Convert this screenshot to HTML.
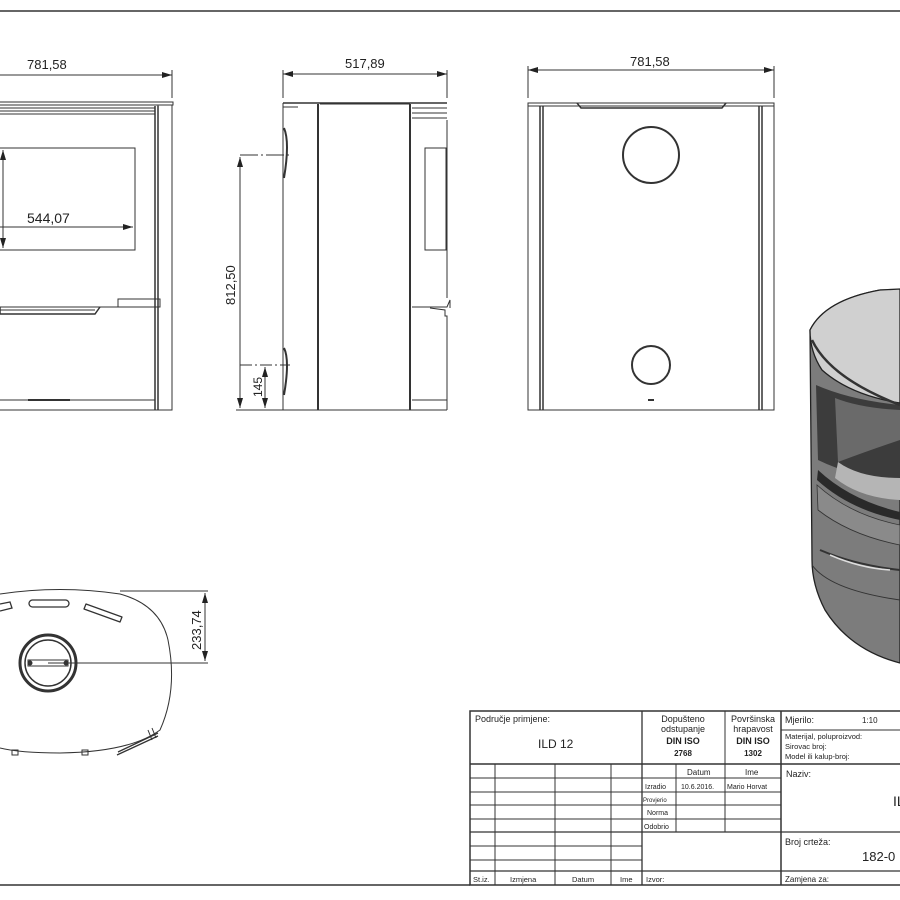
<!DOCTYPE html>
<html><head><meta charset="utf-8"><style>
html,body{margin:0;padding:0;background:#fff}
svg{display:block}
text{font-family:"Liberation Sans",sans-serif;fill:#222}
</style></head><body>
<svg width="900" height="900" viewBox="0 0 900 900" xmlns="http://www.w3.org/2000/svg">
<defs>
<marker id="a" viewBox="0 0 10 6" refX="10" refY="3" markerWidth="10" markerHeight="6" orient="auto-start-reverse" markerUnits="userSpaceOnUse"><path d="M0,0L10,3L0,6z" fill="#222"/></marker>
</defs>
<g stroke="#333" fill="none" stroke-width="1">
<line x1="0" y1="11" x2="900" y2="11" stroke-width="1.5"/>
<line x1="0" y1="885" x2="470" y2="885" stroke-width="1.5"/>

<!-- FRONT VIEW -->
<line x1="0" y1="75" x2="172" y2="75" marker-end="url(#a)"/>
<line x1="172" y1="70" x2="172" y2="98"/>
<rect x="-2" y="102" width="175" height="3"/>
<line x1="0" y1="105" x2="155" y2="105"/>
<line x1="0" y1="108" x2="155" y2="108"/>
<line x1="0" y1="111" x2="155" y2="111"/>
<line x1="0" y1="114" x2="155" y2="114"/>
<line x1="155" y1="106" x2="155" y2="410" stroke-width="1.5"/>
<line x1="158" y1="106" x2="158" y2="410" stroke-width="1.5"/>
<rect x="158" y="105" width="14" height="305"/>
<rect x="-2" y="148" width="137" height="102"/>
<line x1="0" y1="227" x2="133" y2="227" marker-end="url(#a)"/>
<line x1="3" y1="150" x2="3" y2="248" marker-end="url(#a)" marker-start="url(#a)"/>
<rect x="118" y="299" width="42" height="8"/>
<line x1="0" y1="307" x2="158" y2="307"/>
<path d="M0,307 L0,314 L95,314 L100,307" stroke-width="1.5"/>
<line x1="0" y1="310" x2="95" y2="310"/>
<line x1="0" y1="400" x2="155" y2="400"/>
<line x1="28" y1="400" x2="70" y2="400" stroke-width="2"/>
<line x1="0" y1="410" x2="172" y2="410"/>

<!-- SIDE VIEW -->
<line x1="283" y1="74" x2="447" y2="74" marker-end="url(#a)" marker-start="url(#a)"/>
<line x1="283" y1="70" x2="283" y2="98"/>
<line x1="447" y1="70" x2="447" y2="98"/>
<line x1="283" y1="103" x2="447" y2="103" stroke-width="1.5"/>
<line x1="283" y1="103" x2="283" y2="410"/>
<line x1="283" y1="107" x2="298" y2="107"/>
<path d="M284,128 Q290,142 284,178" stroke-width="2"/>
<path d="M284,348 Q290,360 284,395" stroke-width="2"/>
<line x1="318" y1="104" x2="318" y2="410" stroke-width="2"/>
<line x1="320" y1="104" x2="410" y2="104"/>
<line x1="410" y1="104" x2="410" y2="410" stroke-width="2"/>
<line x1="412" y1="108" x2="447" y2="108"/>
<line x1="412" y1="113" x2="447" y2="113"/>
<line x1="412" y1="118" x2="447" y2="118"/>
<line x1="447" y1="120" x2="447" y2="298"/>
<rect x="425" y="148" width="21" height="102"/>
<path d="M412,307 L447,307 L450,300 L450,308 M430,308 L445,310 L445,316 L447,316 L447,410"/>
<line x1="412" y1="400" x2="447" y2="400"/>
<line x1="283" y1="410" x2="447" y2="410"/>
<line x1="240" y1="155" x2="290" y2="155" stroke-dasharray="18,3,2,3"/>
<line x1="240" y1="365" x2="290" y2="365" stroke-dasharray="12,3,2,3"/>
<line x1="236" y1="410" x2="283" y2="410"/>
<line x1="240" y1="157" x2="240" y2="408" marker-end="url(#a)" marker-start="url(#a)"/>
<line x1="265" y1="367" x2="265" y2="408" marker-end="url(#a)" marker-start="url(#a)"/>

<!-- BACK VIEW -->
<line x1="528" y1="70" x2="774" y2="70" marker-end="url(#a)" marker-start="url(#a)"/>
<line x1="528" y1="66" x2="528" y2="98"/>
<line x1="774" y1="66" x2="774" y2="98"/>
<rect x="528" y="103" width="246" height="307"/>
<line x1="528" y1="106" x2="774" y2="106"/>
<line x1="540" y1="106" x2="540" y2="410" stroke-width="1.5"/>
<line x1="543" y1="106" x2="543" y2="410" stroke-width="1.5"/>
<line x1="759" y1="106" x2="759" y2="410" stroke-width="1.5"/>
<line x1="762" y1="106" x2="762" y2="410" stroke-width="1.5"/>
<path d="M577,103 L581,108 L722,108 L726,103" stroke-width="1.5"/>
<circle cx="651" cy="155" r="28" stroke-width="2"/>
<circle cx="651" cy="365" r="19" stroke-width="2"/>
<line x1="648" y1="400" x2="654" y2="400" stroke-width="2"/>

<!-- TOP VIEW -->
<path d="M0,594 Q60,585 120,594 Q160,605 168,640 Q178,690 160,730 Q130,752 60,753 Q20,753 0,748"/>
<circle cx="48" cy="663" r="28" stroke-width="3"/>
<circle cx="48" cy="663" r="23" stroke-width="1.5"/>
<rect x="28" y="660" width="40" height="6"/>
<circle cx="30" cy="663" r="2" fill="#333"/>
<circle cx="66" cy="663" r="2" fill="#333"/>
<line x1="48" y1="663" x2="208" y2="663"/>
<line x1="120" y1="591" x2="208" y2="591"/>
<line x1="205" y1="593" x2="205" y2="661" marker-end="url(#a)" marker-start="url(#a)"/>
<rect x="29" y="600" width="40" height="7" rx="3.5" stroke-width="1.3"/>
<path d="M0,604 L10,602 L12,608 L0,611" stroke-width="1.3"/>
<path d="M86,604 L122,617 L120,622 L84,609 Z" stroke-linejoin="round" stroke-width="1.3"/>
<path d="M118,752 L158,733 M117,755 L158,736" stroke-width="1.3"/>
<path d="M148,730 L152,740 M152,728 L156,738"/>
<rect x="12" y="750" width="6" height="5"/>
<rect x="82" y="750" width="6" height="5"/>
</g>

<!-- texts views -->
<text x="27" y="69" font-size="13">781,58</text>
<text x="27" y="223" font-size="14">544,07</text>
<text x="345" y="68" font-size="13">517,89</text>
<text x="630" y="66" font-size="13">781,58</text>
<text transform="translate(235,305) rotate(-90)" font-size="13">812,50</text>
<text transform="translate(262,397) rotate(-90)" font-size="12">145</text>
<text transform="translate(201,650) rotate(-90)" font-size="13">233,74</text>

<!-- 3D VIEW -->
<g stroke="#222" stroke-width="1.3">
<path d="M810,330 Q825,300 880,290 L900,290 L900,663 Q850,650 825,610 Q812,585 812,560 Z" fill="#7c7c7c"/>
<path d="M816,385 Q850,400 900,405 L900,480 Q855,478 818,460 Z" fill="#3c3c3c" stroke="none"/>
<path d="M835,398 Q860,408 900,410 L900,440 Q870,450 838,462 Z" fill="#6a6a6a" stroke="none"/>
<path d="M838,462 Q860,478 900,478 L900,500 Q860,498 835,478 Z" fill="#b5b5b5" stroke="none"/>
<path d="M818,470 Q850,500 900,512 L900,520 Q850,510 817,480 Z" fill="#2a2a2a" stroke="none"/>
<path d="M817,485 Q850,515 900,525 L900,545 Q850,535 818,510 Z" fill="#8a8a8a" stroke="#333" stroke-width="0.8"/>
<path d="M820,550 Q855,565 900,570" fill="none" stroke="#333" stroke-width="2"/>
<path d="M830,555 Q860,568 890,570" fill="none" stroke="#ddd" stroke-width="1.5"/>
<path d="M812,565 Q830,590 900,600" fill="none" stroke="#333" stroke-width="1"/>
<path d="M810,330 Q825,300 880,290 L900,289 L900,403 Q850,395 822,370 Q810,352 810,330Z" fill="#d0d0d0"/>
<path d="M812,340 Q830,378 900,405" fill="none" stroke="#333" stroke-width="2.5"/>
</g>

<!-- TITLE BLOCK -->
<g stroke="#333" fill="none">
<rect x="470" y="711" width="440" height="174" stroke-width="1.5"/>
<line x1="470" y1="764" x2="900" y2="764" stroke-width="1.5"/>
<line x1="642" y1="711" x2="642" y2="885" stroke-width="1.3"/>
<line x1="725" y1="711" x2="725" y2="832"/>
<line x1="781" y1="711" x2="781" y2="885" stroke-width="1.5"/>
<line x1="781" y1="730" x2="900" y2="730"/>
<line x1="495" y1="764" x2="495" y2="885"/>
<line x1="555" y1="764" x2="555" y2="885"/>
<line x1="611" y1="764" x2="611" y2="885"/>
<line x1="676" y1="764" x2="676" y2="832"/>
<line x1="470" y1="778" x2="781" y2="778"/>
<line x1="470" y1="792" x2="781" y2="792"/>
<line x1="470" y1="805" x2="781" y2="805"/>
<line x1="470" y1="819" x2="781" y2="819"/>
<line x1="470" y1="832" x2="900" y2="832" stroke-width="1.3"/>
<line x1="470" y1="846" x2="642" y2="846"/>
<line x1="470" y1="860" x2="642" y2="860"/>
<line x1="470" y1="871" x2="900" y2="871" stroke-width="1.3"/>
</g>
<g font-size="9">
<text x="475" y="722">Područje primjene:</text>
<text x="538" y="748" font-size="12">ILD 12</text>
<text x="683" y="722" text-anchor="middle">Dopušteno</text>
<text x="683" y="732" text-anchor="middle">odstupanje</text>
<text x="683" y="744" text-anchor="middle" font-weight="bold">DIN ISO</text>
<text x="683" y="756" text-anchor="middle" font-size="8" font-weight="bold">2768</text>
<text x="753" y="722" text-anchor="middle">Površinska</text>
<text x="753" y="732" text-anchor="middle">hrapavost</text>
<text x="753" y="744" text-anchor="middle" font-weight="bold">DIN ISO</text>
<text x="753" y="756" text-anchor="middle" font-size="8" font-weight="bold">1302</text>
<text x="785" y="723">Mjerilo:</text>
<text x="862" y="723" font-size="8">1:10</text>
<text x="785" y="739" font-size="7.5">Materijal, poluproizvod:</text>
<text x="785" y="749" font-size="7.5">Sirovac broj:</text>
<text x="785" y="759" font-size="7.5">Model ili kalup-broj:</text>
<text x="786" y="777">Naziv:</text>
<text x="893" y="806" font-size="14">IL</text>
<text x="785" y="845">Broj crteža:</text>
<text x="862" y="861" font-size="13">182-0</text>
<text x="785" y="882" font-size="8">Zamjena za:</text>
<text x="687" y="775" font-size="8">Datum</text>
<text x="745" y="775" font-size="8">Ime</text>
<text x="645" y="789" font-size="7">Izradio</text>
<text x="681" y="789" font-size="7">10.6.2016.</text>
<text x="727" y="789" font-size="7">Mario Horvat</text>
<text x="643" y="802" font-size="6">Provjerio</text>
<text x="647" y="815" font-size="7">Norma</text>
<text x="644" y="829" font-size="7">Odobrio</text>
<text x="473" y="882" font-size="7.5">St.iz.</text>
<text x="510" y="882" font-size="7.5">Izmjena</text>
<text x="572" y="882" font-size="7.5">Datum</text>
<text x="620" y="882" font-size="7.5">Ime</text>
<text x="646" y="882" font-size="7.5">Izvor:</text>
</g>
</svg>
</body></html>
